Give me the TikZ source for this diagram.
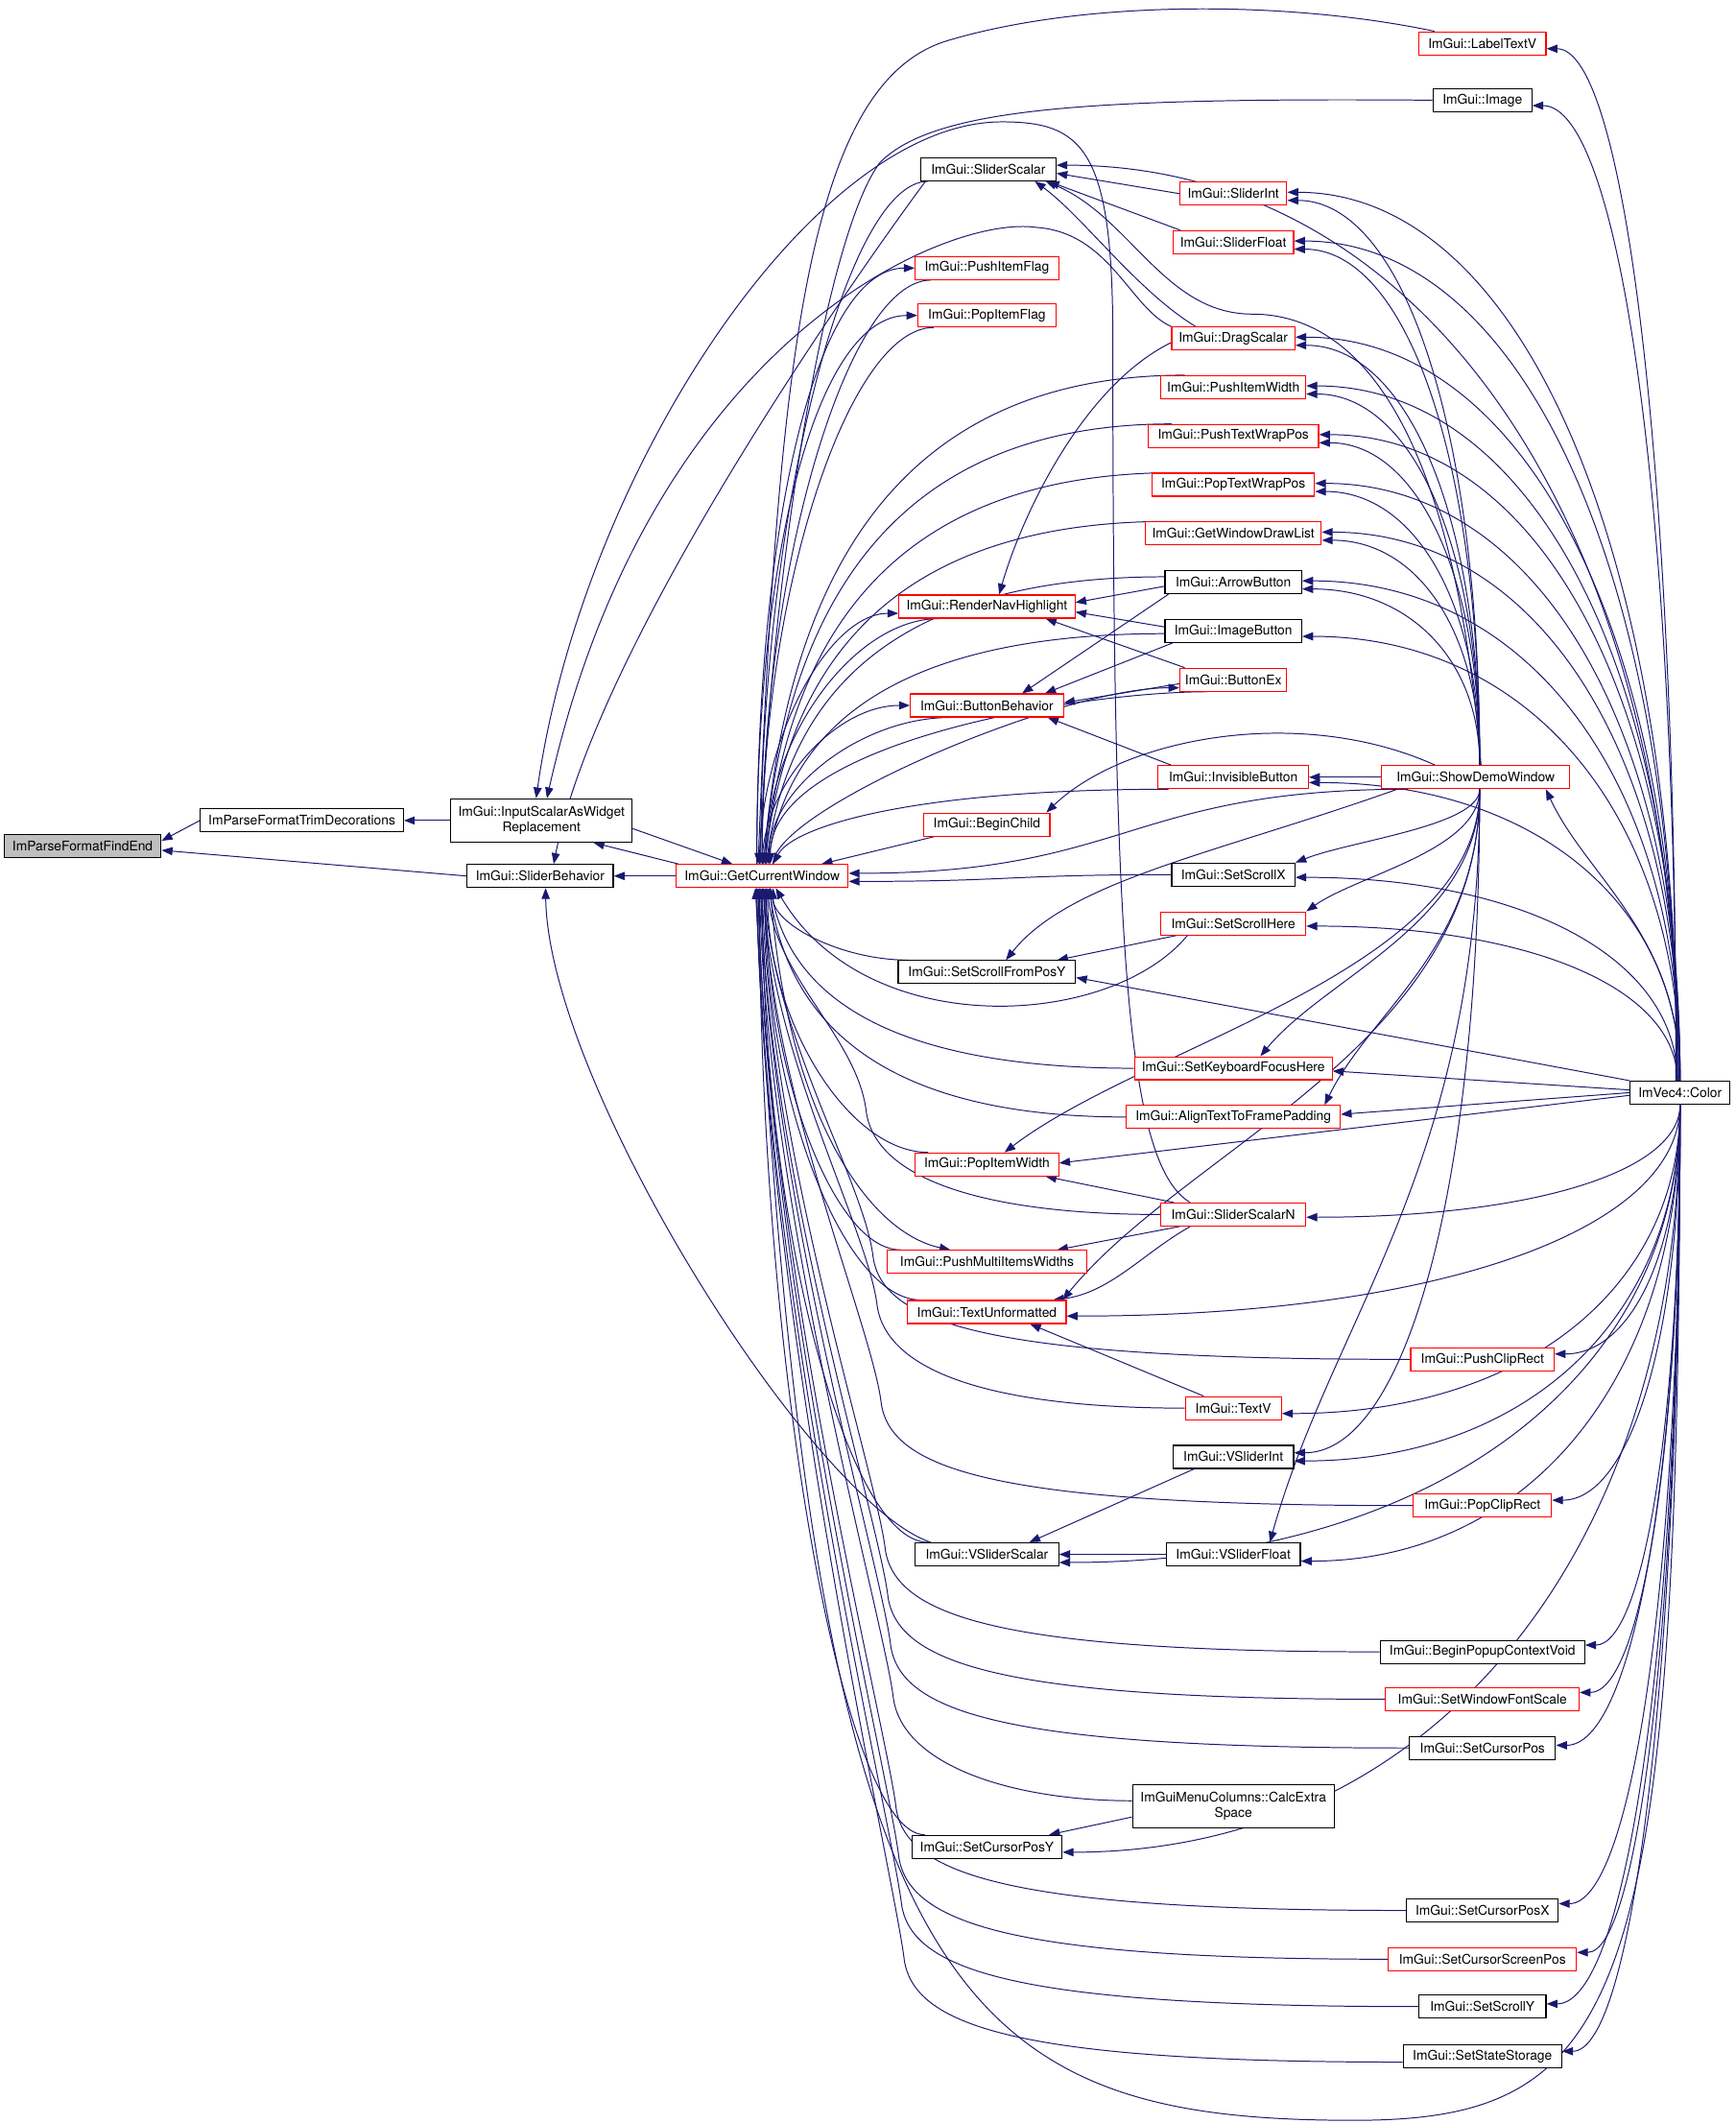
\documentclass[tikz,border=0pt]{standalone}
\usepackage{fontspec}
\setmainfont{TeX Gyre Heros}
\usetikzlibrary{arrows.meta,calc}
\definecolor{edgec}{HTML}{191970}
\definecolor{findfill}{HTML}{BFBFBF}
\pgfdeclarelayer{back}\pgfdeclarelayer{edges}
\pgfsetlayers{back,edges,main}
\tikzset{
  nb/.style={draw=black, line width=0.8pt, fill=white, font=\fontsize{9.8}{11}\selectfont,
    inner xsep=1pt, inner ysep=0pt, minimum height=17pt, align=center},
  nr/.style={nb, draw=red},
  ee/.style={draw=edgec, line width=0.7pt, -{Triangle[length=8pt,width=6pt]}},
  cH/.style={to path={let \p1=(\tikztostart), \p2=(\tikztotarget) in
     .. controls ({\x1+#1*(\x2-(\x1))},\y1) and (\x2,{\y1+#1*(\y2-(\y1))}) .. (\tikztotarget)}},
  cH/.default=0.6,
  cL/.style={to path={let \p1=(\tikztostart), \p2=(\tikztotarget) in
     .. controls ({\x2+#1*(\x1-(\x2))},\y1) and ({\x2+0.05*(\x1-(\x2))},{\y1+0.5*(\y2-(\y1))}) .. (\tikztotarget)}},
  cL/.default=0.25,
  cX/.style={to path={let \p1=(\tikztostart), \p2=(\tikztotarget) in
     .. controls ({#1pt+90pt},\y1) and ({#1pt+8pt},{\y1+25pt}) .. ({#1pt},{\y1+75pt})
     .. controls ({#1pt-6pt},{\y1+130pt}) and ({\x2+6pt},{\y2+0.4*(\y1+75pt-(\y2))}) .. (\tikztotarget)}},
  cV/.style={to path={let \p1=(\tikztostart), \p2=(\tikztotarget) in
     .. controls (\x1,{\y1+#1*(\y2-(\y1))}) and ({\x2+#1*(\x1-(\x2))},\y2) .. (\tikztotarget)}},
  cV/.default=0.6,
  cW/.style={to path={let \p1=(\tikztostart), \p2=(\tikztotarget) in
     .. controls (\x1,{\y1+0.5*(\y2-(\y1))}) and ({\x2+0.3*(\x1-(\x2))},{\y2+0.3*(\y1-(\y2))}) .. (\tikztotarget)}},
  cS/.style={to path={let \p1=(\tikztostart), \p2=(\tikztotarget) in
     .. controls ({0.5*(\x1+\x2)},\y1) and ({0.5*(\x1+\x2)},\y2) .. (\tikztotarget)}},
}
\begin{document}
\begin{tikzpicture}[x=1pt,y=-1pt]
\begin{pgfonlayer}{back}
\fill[white] (0,0) rectangle (1282,1568);
\end{pgfonlayer}
\useasboundingbox (0,0) rectangle (1282,1568);

% nodes
\node[nb, fill=findfill, minimum width=116pt] (findend) at (61,625) {ImParseFormatFindEnd};
\node[nb, minimum width=150pt] (trim) at (223,606) {ImParseFormatTrimDecorations};
\node[nb, minimum width=134pt, minimum height=32pt] (inputscalar) at (400,606) {ImGui::InputScalarAsWidget\\Replacement};
\node[nb, minimum width=108pt] (sliderbeh) at (399,647) {ImGui::SliderBehavior};
\node[nr, minimum width=127pt] (gcw) at (563,647) {ImGui::GetCurrentWindow};
\node[nr, minimum width=94pt] (labeltextv) at (1095,32) {ImGui::LabelTextV};
\node[nb, minimum width=73pt] (image) at (1095,74) {ImGui::Image};
\node[nb, minimum width=100pt] (sliderscalar) at (730,125) {ImGui::SliderScalar};
\node[nr, minimum width=79pt] (sliderint) at (911,143) {ImGui::SliderInt};
\node[nr, minimum width=89pt] (sliderfloat) at (911,179) {ImGui::SliderFloat};
\node[nr, minimum width=106pt] (pushitemflag) at (729,198) {ImGui::PushItemFlag};
\node[nr, minimum width=102pt] (popitemflag) at (729,233) {ImGui::PopItemFlag};
\node[nr, minimum width=91pt] (dragscalar) at (911,250) {ImGui::DragScalar};
\node[nr, minimum width=107pt] (pushitemwidth) at (911,286) {ImGui::PushItemWidth};
\node[nr, minimum width=126pt] (pushtextwrappos) at (911,322) {ImGui::PushTextWrapPos};
\node[nr, minimum width=120pt] (poptextwrappos) at (911,358) {ImGui::PopTextWrapPos};
\node[nr, minimum width=130pt] (getwindowdrawlist) at (911,394) {ImGui::GetWindowDrawList};
\node[nb, minimum width=101pt] (arrowbutton) at (911,430) {ImGui::ArrowButton};
\node[nr, minimum width=130pt] (rendernav) at (729,448) {ImGui::RenderNavHighlight};
\node[nb, minimum width=101pt] (imagebutton) at (911,466) {ImGui::ImageButton};
\node[nr, minimum width=79pt] (buttonex) at (911,502) {ImGui::ButtonEx};
\node[nr, minimum width=113pt] (buttonbeh) at (729,521) {ImGui::ButtonBehavior};
\node[nr, minimum width=111pt] (invisiblebutton) at (911,574) {ImGui::InvisibleButton};
\node[nr, minimum width=93pt] (beginchild) at (729,609) {ImGui::BeginChild};
\node[nr, minimum width=139pt] (showdemo) at (1090,574) {ImGui::ShowDemoWindow};
\node[nb, minimum width=91pt] (setscrollx) at (911,646) {ImGui::SetScrollX};
\node[nr, minimum width=107pt] (setscrollhere) at (911,682) {ImGui::SetScrollHere};
\node[nb, minimum width=131pt] (setscrollfromposy) at (729,718) {ImGui::SetScrollFromPosY};
\node[nr, minimum width=146pt] (setkeyboardfocus) at (911,789) {ImGui::SetKeyboardFocusHere};
\node[nr, minimum width=158pt] (aligntext) at (911,825) {ImGui::AlignTextToFramePadding};
\node[nb, minimum width=74pt] (color) at (1241,807) {ImVec4::Color};
\node[nr, minimum width=106pt] (popitemwidth) at (729,860) {ImGui::PopItemWidth};
\node[nr, minimum width=107pt] (sliderscalarn) at (911,897) {ImGui::SliderScalarN};
\node[nr, minimum width=147pt] (pushmulti) at (729,932) {ImGui::PushMultiItemsWidths};
\node[nr, minimum width=117pt] (textunformatted) at (729,969) {ImGui::TextUnformatted};
\node[nr, minimum width=106pt] (pushcliprect) at (1095,1004) {ImGui::PushClipRect};
\node[nr, minimum width=71pt] (textv) at (911,1040) {ImGui::TextV};
\node[nb, minimum width=89pt] (vsliderint) at (911,1076) {ImGui::VSliderInt};
\node[nr, minimum width=102pt] (popcliprect) at (1095,1112) {ImGui::PopClipRect};
\node[nb, minimum width=106pt] (vsliderscalar) at (729,1148) {ImGui::VSliderScalar};
\node[nb, minimum width=99pt] (vsliderfloat) at (911,1148) {ImGui::VSliderFloat};
\node[nb, minimum width=151pt] (beginpopup) at (1095,1220) {ImGui::BeginPopupContextVoid};
\node[nr, minimum width=143pt] (setwindowfontscale) at (1095,1255) {ImGui::SetWindowFontScale};
\node[nb, minimum width=108pt] (setcursorpos) at (1095,1291) {ImGui::SetCursorPos};
\node[nb, minimum width=149pt, minimum height=32pt] (calcextra) at (911,1334) {ImGuiMenuColumns::CalcExtra\\Space};
\node[nb, minimum width=111pt] (setcursorposy) at (729,1364) {ImGui::SetCursorPosY};
\node[nb, minimum width=112pt] (setcursorposx) at (1095,1411) {ImGui::SetCursorPosX};
\node[nr, minimum width=139pt] (setcursorscreenpos) at (1095,1447) {ImGui::SetCursorScreenPos};
\node[nb, minimum width=94pt] (setscrolly) at (1095,1482) {ImGui::SetScrollY};
\node[nb, minimum width=117pt] (setstatestorage) at (1095,1519) {ImGui::SetStateStorage};

\begin{pgfonlayer}{edges}
% left chain
\draw[ee] (trim.west) -- ([yshift=4pt]findend.east);
\draw[ee] (sliderbeh.west) -- ([yshift=-3pt]findend.east);
\draw[ee] (inputscalar.west) -- (trim.east);
\draw[ee] (gcw.west) -- (sliderbeh.east);
\draw[ee] ([xshift=2pt]gcw.north west) -- ([xshift=-29pt]inputscalar.south east);
\draw[ee] ([yshift=-6pt]inputscalar.east) -- ([xshift=-22pt]gcw.north);
\draw[ee] ([xshift=22pt]sliderscalarn.north west) .. controls (832,860) and (822,700) .. (822,250) .. controls (822,110) and (800,90) .. (740,90) .. controls (600,90) and (430,350) .. ([xshift=-4pt]inputscalar.north);
\draw[ee] (dragscalar.north west) .. controls (835,228) and (820,172) .. (766,168) .. controls (700,158) and (480,250) .. ([xshift=4pt]inputscalar.north);
\draw[ee] ([xshift=4pt]sliderscalar.south west) .. controls (620,220) and (440,480) .. ([xshift=10pt]sliderbeh.north);
\draw[ee] ([xshift=12pt]vsliderscalar.north west) .. controls (600,1110) and (405,800) .. ([xshift=4pt]sliderbeh.south);

% into GCW from above
\draw[ee] ([xshift=12pt]labeltextv.north west) .. controls (950,0) and (800,0) .. (700,30) .. controls (600,60) and (575,250) .. ([xshift=-3pt]gcw.north);
\draw[ee] (image.west) .. controls (800,72) and (690,80) .. (650,120) .. controls (612,170) and (572,400) .. ([xshift=-2pt]gcw.north);
\draw[ee] ([xshift=6pt]sliderscalar.south west) to[cH=0.5] ([xshift=-1pt]gcw.north);
\draw[ee] ([xshift=12pt]pushitemflag.south west) to[cH=0.5] (gcw.north);
\draw[ee] ([xshift=12pt]popitemflag.south west) to[cH=0.5] (gcw.north);
\draw[ee] ([xshift=18pt]pushitemwidth.north west) to[cL] ([xshift=1pt]gcw.north);
\draw[ee] ([xshift=18pt]pushtextwrappos.north west) to[cL] ([xshift=1pt]gcw.north);
\draw[ee] ([xshift=18pt]poptextwrappos.north west) to[cL] ([xshift=2pt]gcw.north);
\draw[ee] ([xshift=18pt]getwindowdrawlist.north west) to[cL] ([xshift=2pt]gcw.north);
\draw[ee] ([yshift=4pt]arrowbutton.west) to[cL] ([xshift=3pt]gcw.north);
\draw[ee] ([xshift=30pt]rendernav.south west) to[cH=0.5] ([xshift=3pt]gcw.north);
\draw[ee] ([yshift=-2pt]imagebutton.west) to[cL] ([xshift=4pt]gcw.north);
\draw[ee] ([xshift=21pt]buttonex.south west) to[cH=0.3] ([xshift=6pt]gcw.north);
\draw[ee] ([xshift=30pt]buttonbeh.south west) to[cH=0.5] ([xshift=5pt]gcw.north);
\draw[ee] ([xshift=8pt]invisiblebutton.south west) to[cL=0.35] ([xshift=8pt]gcw.north);
\draw[ee] ([xshift=8pt]beginchild.south west) -- ([xshift=-20pt]gcw.north east);

% GCW out to upper nodes
\draw[ee] ([xshift=-4pt]gcw.north) to[cV] (pushitemflag.west);
\draw[ee] ([xshift=-4pt]gcw.north) to[cV] (popitemflag.west);
\draw[ee] ([xshift=-2pt]gcw.north) to[cV=0.5] ([yshift=-5pt]rendernav.west);
\draw[ee] (gcw.north) to[cV=0.5] (buttonbeh.west);
\draw[ee] ([xshift=8pt]gcw.north) to[cV=0.3] ([yshift=-6pt]buttonex.west);
\draw[ee] ([xshift=6pt]gcw.south) .. controls (580,820) and (640,910) .. ([xshift=-27pt]pushmulti.north);

% into GCW from the right
\draw[ee] ([xshift=20pt]showdemo.south west) to[cS] ([yshift=2pt]gcw.east);
\draw[ee] (setscrollx.west) to[cS] ([yshift=-4pt]gcw.east);

% into GCW from below
\draw[ee] ([xshift=20pt]setscrollhere.south west) .. controls (820,760) and (640,770) .. ([xshift=10pt]gcw.south);
\draw[ee] ([xshift=8pt]setscrollfromposy.north west) to[cH=0.5] ([xshift=8pt]gcw.south);
\draw[ee] (setkeyboardfocus.west) to[cL] ([xshift=6pt]gcw.south);
\draw[ee] (aligntext.west) to[cL] ([xshift=5pt]gcw.south);
\draw[ee] ([xshift=10pt]popitemwidth.north west) to[cH=0.5] ([xshift=4pt]gcw.south);
\draw[ee] (sliderscalarn.west) to[cX=640] ([xshift=4pt]gcw.south);
\draw[ee] ([xshift=10pt]pushmulti.north west) to[cH=0.5] ([xshift=3pt]gcw.south);
\draw[ee] ([xshift=10pt]textunformatted.north west) to[cH=0.5] ([xshift=2pt]gcw.south);
\draw[ee] (pushcliprect.west) to[cX=645] ([xshift=2pt]gcw.south);
\draw[ee] (textv.west) to[cX=648] ([xshift=1pt]gcw.south);
\draw[ee] (popcliprect.west) to[cX=651] ([xshift=1pt]gcw.south);
\draw[ee] ([xshift=10pt]vsliderscalar.north west) to[cH=0.5] (gcw.south);
\draw[ee] (beginpopup.west) to[cX=654] (gcw.south);
\draw[ee] (setwindowfontscale.west) to[cX=656] ([xshift=-1pt]gcw.south);
\draw[ee] (setcursorpos.west) to[cX=658] ([xshift=-1pt]gcw.south);
\draw[ee] ([yshift=4pt]calcextra.west) to[cX=660] ([xshift=-2pt]gcw.south);
\draw[ee] ([xshift=10pt]setcursorposy.north west) to[cH=0.5] ([xshift=-2pt]gcw.south);
\draw[ee] (setcursorposx.west) to[cX=662] ([xshift=-3pt]gcw.south);
\draw[ee] (setcursorscreenpos.west) to[cX=664] ([xshift=-3pt]gcw.south);
\draw[ee] (setscrolly.west) to[cX=666] ([xshift=-4pt]gcw.south);
\draw[ee] ([yshift=-4pt]setstatestorage.west) to[cX=668] ([xshift=-4pt]gcw.south);
\draw[ee] (color.south) .. controls (1240,1480) and (1200,1566) .. (1000,1566) .. controls (700,1566) and (600,1470) .. ([xshift=-5pt]gcw.south);

% middle small edges
\draw[ee] (sliderint.west) -- ([yshift=-3pt]sliderscalar.east);
\draw[ee] ([xshift=6pt]sliderfloat.north west) -- ([xshift=-6pt]sliderscalar.south east);
\draw[ee] ([xshift=18pt]dragscalar.north west) .. controls (840,215) and (800,160) .. ([xshift=-16pt]sliderscalar.south east);
\draw[ee] ([yshift=-3pt]dragscalar.west) .. controls (800,285) and (755,380) .. ([xshift=9pt]rendernav.north);
\draw[ee] ([yshift=-3pt]arrowbutton.west) -- ([yshift=3pt]rendernav.east);
\draw[ee] ([yshift=3pt]imagebutton.west) -- ([yshift=-4pt]rendernav.east);
\draw[ee] ([xshift=4pt]buttonex.north west) -- ([xshift=-22pt]rendernav.south east);
\draw[ee] ([xshift=3pt]arrowbutton.south west) -- ([xshift=26pt]buttonbeh.north);
\draw[ee] ([xshift=6pt]imagebutton.south west) -- ([xshift=-14pt]buttonbeh.north east);
\draw[ee] ([yshift=-3pt]buttonex.west) -- ([yshift=2pt]buttonbeh.east);
\draw[ee] ([xshift=10pt]invisiblebutton.north west) -- ([xshift=-12pt]buttonbeh.south east);
\draw[ee] ([xshift=12pt]setscrollhere.south west) -- ([xshift=-14pt]setscrollfromposy.north east);
\draw[ee] ([xshift=10pt]sliderscalarn.north west) -- ([xshift=-10pt]popitemwidth.south east);
\draw[ee] ([xshift=14pt]sliderscalarn.south west) -- ([xshift=-22pt]pushmulti.north east);
\draw[ee] ([xshift=22pt]sliderscalarn.south west) .. controls (845,925) and (820,955) .. ([xshift=-10pt]textunformatted.north east);
\draw[ee] ([xshift=14pt]textv.north west) -- ([xshift=-27pt]textunformatted.south east);
\draw[ee] ([xshift=16pt]vsliderint.south west) -- ([xshift=-22pt]vsliderscalar.north east);
\draw[ee] (vsliderfloat.west) -- (vsliderscalar.east);
\draw[ee] ([yshift=-8pt]calcextra.west) -- ([xshift=-10pt]setcursorposy.north east);

% ShowDemoWindow fan
\draw[ee] ([xshift=4pt]showdemo.north) .. controls (1075,330) and (1010,232) .. (925,232) .. controls (860,232) and (835,160) .. ([xshift=-8pt]sliderscalar.south east);
\draw[ee] ([xshift=3pt]showdemo.north) to[cV] ([yshift=-5pt]sliderint.east);
\draw[ee] ([xshift=3pt]showdemo.north) to[cV] ([yshift=-5pt]sliderfloat.east);
\draw[ee] ([xshift=3pt]showdemo.north) to[cV] ([yshift=-5pt]dragscalar.east);
\draw[ee] ([xshift=3pt]showdemo.north) to[cV] ([yshift=-5pt]pushitemwidth.east);
\draw[ee] ([xshift=3pt]showdemo.north) to[cV] ([yshift=-5pt]pushtextwrappos.east);
\draw[ee] ([xshift=3pt]showdemo.north) to[cV] ([yshift=-5pt]poptextwrappos.east);
\draw[ee] ([xshift=3pt]showdemo.north) to[cV] ([yshift=-5pt]getwindowdrawlist.east);
\draw[ee] ([xshift=3pt]showdemo.north) to[cV] ([yshift=-5pt]arrowbutton.east);
\draw[ee] (showdemo.west) -- (invisiblebutton.east);
\draw[ee] ([xshift=40pt]showdemo.north west) .. controls (960,520) and (830,545) .. ([xshift=-3pt]beginchild.north east);
\draw[ee] ([xshift=12pt]showdemo.south west) .. controls (900,630) and (790,650) .. ([xshift=14pt]setscrollfromposy.north);
\draw[ee] ([xshift=3pt]showdemo.south) to[cW] (setscrollx.north east);
\draw[ee] ([xshift=3pt]showdemo.south) to[cW] (setscrollhere.north east);
\draw[ee] ([xshift=3pt]showdemo.south) to[cW] ([xshift=20pt]setkeyboardfocus.north);
\draw[ee] ([xshift=3pt]showdemo.south) to[cW] ([xshift=-12pt]aligntext.north east);
\draw[ee] ([xshift=3pt]showdemo.south) to[cW] ([xshift=13pt]popitemwidth.north);
\draw[ee] ([xshift=3pt]showdemo.south) to[cW] ([xshift=-3pt]textunformatted.north east);
\draw[ee] ([xshift=3pt]showdemo.south) to[cV] ([yshift=3pt]vsliderint.east);
\draw[ee] ([xshift=3pt]showdemo.south) to[cW] ([xshift=27pt]vsliderfloat.north);

% ImVec4::Color fan
\draw[ee] ([xshift=-3pt]color.north) to[cV] ([yshift=-4pt]labeltextv.east);
\draw[ee] ([xshift=-3pt]color.north) to[cV] ([yshift=-4pt]image.east);
\draw[ee] ([xshift=-2pt]color.north) to[cV] ([yshift=3pt]sliderscalar.east);
\draw[ee] ([xshift=-2pt]color.north) to[cV] ([yshift=1pt]sliderint.east);
\draw[ee] ([xshift=-2pt]color.north) to[cV] ([yshift=1pt]sliderfloat.east);
\draw[ee] ([xshift=-1pt]color.north) to[cV] ([yshift=1pt]dragscalar.east);
\draw[ee] ([xshift=-1pt]color.north) to[cV] ([yshift=1pt]pushitemwidth.east);
\draw[ee] (color.north) to[cV] ([yshift=1pt]pushtextwrappos.east);
\draw[ee] (color.north) to[cV] ([yshift=1pt]poptextwrappos.east);
\draw[ee] (color.north) to[cV] ([yshift=1pt]getwindowdrawlist.east);
\draw[ee] (color.north) to[cV] ([yshift=1pt]arrowbutton.east);
\draw[ee] (color.north) to[cV] ([yshift=-4pt]imagebutton.east);
\draw[ee] (color.north) to[cV] ([yshift=-4pt]invisiblebutton.east);
\draw[ee] (color.north) to[cW] ([xshift=-18pt]showdemo.south east);
\draw[ee] ([xshift=-2pt]color.north) to[cV] ([yshift=-2pt]setscrollx.east);
\draw[ee] ([xshift=-2pt]color.north) to[cV] ([yshift=-2pt]setscrollhere.east);
\draw[ee] (color.north west) -- ([yshift=-4pt]setscrollfromposy.east);
\draw[ee] ([yshift=2pt]color.west) -- ([yshift=-2pt]setkeyboardfocus.east);
\draw[ee] (color.west) -- ([yshift=2pt]aligntext.east);
\draw[ee] ([yshift=-2pt]color.west) -- ([yshift=1pt]popitemwidth.east);
\draw[ee] (color.south) to[cV] ([yshift=-2pt]sliderscalarn.east);
\draw[ee] (color.south) to[cV] ([yshift=-3pt]textunformatted.east);
\draw[ee] (color.south) to[cV] ([yshift=4pt]pushcliprect.east);
\draw[ee] (color.south) to[cV] ([yshift=-4pt]textv.east);
\draw[ee] (color.south) to[cV] ([yshift=-3pt]vsliderint.east);
\draw[ee] (color.south) to[cV] ([yshift=4pt]popcliprect.east);
\draw[ee] (color.south) to[cV] ([yshift=-5pt]vsliderfloat.east);
\draw[ee] (color.south) to[cV] ([yshift=-6pt]vsliderscalar.east);
\draw[ee] (color.south) to[cV] ([yshift=5pt]beginpopup.east);
\draw[ee] (color.south) to[cV] ([yshift=5pt]setwindowfontscale.east);
\draw[ee] (color.south) to[cV] ([yshift=2pt]setcursorpos.east);
\draw[ee] (color.south) to[cV] ([yshift=-4pt]setcursorposy.east);
\draw[ee] (color.south) to[cV] ([yshift=5pt]setcursorposx.east);
\draw[ee] (color.south) to[cV] ([yshift=5pt]setcursorscreenpos.east);
\draw[ee] (color.south) to[cV] ([yshift=2pt]setscrolly.east);
\draw[ee] (color.south) to[cV] ([yshift=4pt]setstatestorage.east);
\end{pgfonlayer}
\end{tikzpicture}
\end{document}
